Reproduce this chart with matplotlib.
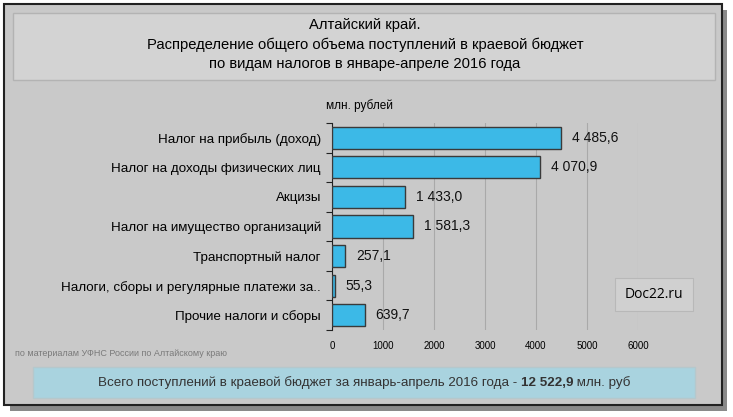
import matplotlib.pyplot as plt
from matplotlib.patches import Rectangle

categories = ["Налог на прибыль (доход)", "Налог на доходы физических лиц", "Акцизы",
              "Налог на имущество организаций", "Транспортный налог",
              "Налоги, сборы и регулярные платежи за..", "Прочие налоги и сборы"]
values = [4485.6, 4070.9, 1433.0, 1581.3, 257.1, 55.3, 639.7]
value_labels = ["4 485,6", "4 070,9", "1 433,0", "1 581,3", "257,1", "55,3", "639,7"]
xticks = [0, 1000, 2000, 3000, 4000, 5000, 6000]

W, H = 733, 417
plt.rcParams['font.family'] = ['Liberation Sans', 'DejaVu Sans']
narrow = ['Liberation Sans Narrow', 'Liberation Sans']

fig = plt.figure(figsize=(W / 100, H / 100), dpi=100)
fig.patch.set_facecolor('white')


def box(x0, y0, x1, y1, **kw):
    # pixel coords (top-left origin) -> figure rectangle
    r = Rectangle((x0 / W, 1 - y1 / H), (x1 - x0) / W, (y1 - y0) / H,
                  transform=fig.transFigure, **kw)
    fig.patches.append(r)
    return r


# shadow + frame
box(10, 10, 727, 411, facecolor='#8a8a8a', edgecolor='none', zorder=0)
box(4, 4, 722, 405, facecolor='#c9c9c9', edgecolor='#222222', lw=1.5, zorder=1)
# title box
box(13, 13, 715, 80, facecolor='#d3d3d3', edgecolor='#b3b3b3', lw=1, zorder=2)
for yy, s in [(25, "Алтайский край."),
              (45, "Распределение общего объема поступлений в краевой бюджет"),
              (64, "по видам налогов в январе-апреле 2016 года")]:
    fig.text(365 / W, 1 - yy / H, s, ha='center', va='center', fontsize=10.6,
             family=narrow, zorder=3)

# chart
ax = fig.add_axes([332 / W, 1 - 330 / H, 306 / W, 207 / H])
ax.set_facecolor('none')
ax.set_zorder(5)
y = list(range(len(categories)))
ax.barh(y, values, height=0.75, color='#3cb9e7', edgecolor='#3a3a3a', lw=1, zorder=3)
for yi, v, lab in zip(y, values, value_labels):
    ax.annotate(lab, (v, yi), xytext=(8, 0), textcoords='offset points',
                va='center', ha='left', fontsize=10, color='#111111')
ax.set_ylim(len(categories) - 0.5, -0.5)
ax.set_xlim(0, 6000)
ax.set_xticks(xticks)
ax.set_xticklabels([str(t) for t in xticks], fontsize=7, family=narrow)
ax.tick_params(axis='x', length=0, pad=8)
ax.set_yticks([i - 0.5 for i in range(len(categories) + 1)], minor=False)
ax.set_yticklabels([])
ax.tick_params(axis='y', direction='out', length=4, color='#222222')
ax.set_yticks(y, minor=True)
ax.set_yticklabels(categories, minor=True, fontsize=9.6)
ax.tick_params(axis='y', which='minor', length=0, pad=8)
ax.grid(axis='x', color='#a9a9a9', lw=0.8, zorder=0)
for s in ['top', 'right', 'bottom']:
    ax.spines[s].set_visible(False)
ax.spines['left'].set_color('#222222')
ax.text(-0.02, 1.07, "млн. рублей", transform=ax.transAxes, fontsize=8.5, ha='left')

# watermark box
box(615, 278, 693, 311, facecolor='#d0d0d0', edgecolor='#b8b8b8', lw=0.8, zorder=6)
fig.text(654 / W, 1 - 294.5 / H, "Doc22.ru", ha='center', va='center', fontsize=10,
         family=['Open Sans', 'DejaVu Sans'], zorder=7)

# source
fig.text(15 / W, 1 - 354 / H, "по материалам УФНС России по Алтайскому краю", fontsize=6.5,
         color='#7a7a7a', va='center', family=narrow)

# total box
box(33, 367, 695, 398, facecolor='#a9d3df', edgecolor='#b5c8cc', lw=1, zorder=2)
parts = [("Всего поступлений в краевой бюджет за январь-апрель 2016 года - ", 'normal'),
         ("12 522,9", 'bold'), (" млн. руб", 'normal')]
fig.canvas.draw()
r = fig.canvas.get_renderer()
txts = []
for s, w in parts:
    t = fig.text(0, 1 - 383 / H, s, fontsize=9.6, fontweight=w, va='center', color='#333333',
                 family=narrow, zorder=3)
    txts.append(t)
widths = [t.get_window_extent(r).width for t in txts]
x = 364 - sum(widths) / 2
for t, wd in zip(txts, widths):
    t.set_x(x / W)
    x += wd

fig.savefig('out.png', dpi=100)
